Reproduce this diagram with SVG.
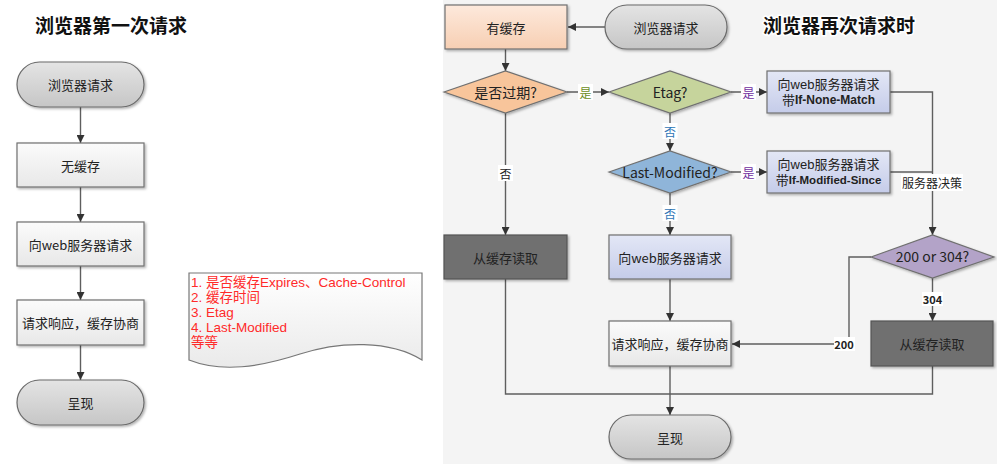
<svg xmlns="http://www.w3.org/2000/svg" width="997" height="464" viewBox="0 0 997 464">
<defs>
  <linearGradient id="gBox" x1="0" y1="0" x2="0" y2="1"><stop offset="0" stop-color="#fbfbfb"/><stop offset="1" stop-color="#e8e8e8"/></linearGradient>
  <linearGradient id="gTerm" x1="0" y1="0" x2="0" y2="1"><stop offset="0" stop-color="#e4e4e4"/><stop offset="1" stop-color="#c6c6c6"/></linearGradient>
  <linearGradient id="gPeach" x1="0" y1="0" x2="0" y2="1"><stop offset="0" stop-color="#fde9dc"/><stop offset="1" stop-color="#f7cfb3"/></linearGradient>
  <linearGradient id="gLav" x1="0" y1="0" x2="0" y2="1"><stop offset="0" stop-color="#e3e7f6"/><stop offset="1" stop-color="#c5cce9"/></linearGradient>
  <linearGradient id="gNote" x1="0" y1="0" x2="0" y2="1"><stop offset="0" stop-color="#ffffff"/><stop offset="1" stop-color="#eaeaea"/></linearGradient>
  <filter id="sh" x="-10%" y="-10%" width="125%" height="135%"><feDropShadow dx="1.5" dy="1.5" stdDeviation="1" flood-color="#000" flood-opacity="0.3"/></filter>
  <marker id="arr" viewBox="0 0 10 10" refX="10" refY="5" markerWidth="8" markerHeight="8" markerUnits="userSpaceOnUse" orient="auto"><path d="M0,0 L10,5 L0,10 z" fill="#333"/></marker>
</defs>
<style>
  .t{font-family:"Noto Sans CJK SC","Liberation Sans",sans-serif;font-size:13px;fill:#222;text-anchor:middle;dominant-baseline:central}
  .t2{font-family:"Liberation Sans","Noto Sans CJK SC",sans-serif;font-size:13px;fill:#222;text-anchor:middle;dominant-baseline:central}
  .tb{font-weight:bold}
  .title{font-family:"Noto Sans CJK SC","Liberation Sans",sans-serif;font-size:19px;font-weight:bold;fill:#111}
  .box{fill:url(#gBox);stroke:#707070;stroke-width:1.2;filter:url(#sh)}
  .term{fill:url(#gTerm);stroke:#6a6a6a;stroke-width:1.2;filter:url(#sh)}
  .dark{fill:#6f6f6f;stroke:#555;stroke-width:1.2;filter:url(#sh)}
  .lav{fill:url(#gLav);stroke:#707070;stroke-width:1.2;filter:url(#sh)}
  .ln{fill:none;stroke:#5e5e5e;stroke-width:1.4}
  .la{fill:none;stroke:#5e5e5e;stroke-width:1.4;marker-end:url(#arr)}
  .lbl{font-family:"Noto Sans CJK SC","Liberation Sans",sans-serif;font-size:12px;text-anchor:middle;dominant-baseline:central}
  .note{font-family:"Liberation Sans","Noto Sans CJK SC",sans-serif;font-size:13.5px;fill:#ff2a2a}
</style>
<rect x="0" y="0" width="997" height="464" fill="#ffffff"/>
<rect x="443" y="0" width="554" height="464" fill="#f4f4f4"/>

<text class="title" x="35" y="33">浏览器第一次请求</text>
<text class="title" x="763" y="33" stroke="#ffffff" stroke-width="3" paint-order="stroke">浏览器再次请求时</text>

<g id="connectors">
  <line class="la" x1="80.5" y1="107" x2="80.5" y2="143"/>
  <line class="la" x1="80.5" y1="187" x2="80.5" y2="222"/>
  <line class="la" x1="80.5" y1="266" x2="80.5" y2="300"/>
  <line class="la" x1="80.5" y1="345" x2="80.5" y2="380"/>
  <line class="la" x1="605" y1="27" x2="568" y2="27"/>
  <line class="la" x1="505.5" y1="49" x2="505.5" y2="71"/>
  <line class="la" x1="567" y1="92" x2="609" y2="92"/>
  <line class="la" x1="731" y1="92" x2="767" y2="92"/>
  <line class="la" x1="670" y1="113" x2="670" y2="151"/>
  <line class="la" x1="731" y1="172" x2="767" y2="172"/>
  <line class="la" x1="670" y1="193" x2="670" y2="235"/>
  <line class="la" x1="505.5" y1="113" x2="505.5" y2="235"/>
  <polyline class="la" points="890,92 932.5,92 932.5,235"/>
  <line class="ln" x1="890" y1="172" x2="932.5" y2="172"/>
  <polyline class="la" points="871,257 849,257 849,344 732,344"/>
  <line class="la" x1="932.5" y1="278" x2="932.5" y2="321"/>
  <line class="la" x1="670" y1="279" x2="670" y2="321"/>
  <polyline class="ln" points="505.5,279 505.5,394 932.5,394 932.5,366"/>
  <line class="la" x1="670" y1="366" x2="670" y2="415"/>
  <rect x="578" y="84" width="15" height="16" fill="#fff"/>
  <text class="lbl" x="585.5" y="92" fill="#6b8e23">是</text>
  <rect x="741" y="84" width="15" height="16" fill="#fff"/>
  <text class="lbl" x="748.5" y="92" fill="#7030a0">是</text>
  <rect x="662.5" y="123" width="15" height="16" fill="#fff"/>
  <text class="lbl" x="670" y="131" fill="#2e75b6">否</text>
  <rect x="741" y="164" width="15" height="16" fill="#fff"/>
  <text class="lbl" x="748.5" y="172" fill="#7030a0">是</text>
  <rect x="662.5" y="205" width="15" height="16" fill="#fff"/>
  <text class="lbl" x="670" y="213" fill="#2e75b6">否</text>
  <rect x="498" y="165" width="15" height="16" fill="#fff"/>
  <text class="lbl" x="505.5" y="173" fill="#222">否</text>
  <rect x="901" y="174" width="62" height="17" fill="#fff"/>
  <text class="lbl" x="932" y="182" fill="#222">服务器决策</text>
  <rect x="922" y="292" width="21" height="14" fill="#fff"/>
  <text class="lbl tb" x="932.5" y="299" fill="#222" style="font-size:11px">304</text>
  <rect x="834" y="337" width="21" height="14" fill="#fff"/>
  <text class="lbl tb" x="844" y="344" fill="#222" style="font-size:11px">200</text>
</g>

<g id="l-start"><rect class="term" x="17" y="62" width="127" height="45" rx="22.5"/><text class="t" x="80.5" y="84.5">浏览器请求</text></g>
<g id="l-nocache"><rect class="box" x="17" y="143" width="127" height="44"/><text class="t" x="80.5" y="165">无缓存</text></g>
<g id="l-req"><rect class="box" x="17" y="222" width="127" height="44"/><text class="t" x="80.5" y="244">向web服务器请求</text></g>
<g id="l-resp"><rect class="box" x="17" y="300" width="127" height="45"/><text class="t" x="80.5" y="322.5">请求响应，缓存协商</text></g>
<g id="l-show"><rect class="term" x="17" y="380" width="127" height="45" rx="22.5"/><text class="t" x="80.5" y="402.5">呈现</text></g>

<g id="note">
  <path d="M189,273 H422 V360 C390,340 340,341 300,354 C260,367 222,373 189,360 Z" fill="url(#gNote)" stroke="#777" stroke-width="1.2"/>
  <text class="note" x="191" y="287">1. 是否缓存Expires、Cache-Control</text>
  <text class="note" x="191" y="302">2. 缓存时间</text>
  <text class="note" x="191" y="317">3. Etag</text>
  <text class="note" x="191" y="332">4. Last-Modified</text>
  <text class="note" x="191" y="347">等等</text>
</g>

<g id="r-cache"><rect x="445" y="5" width="122" height="44" fill="url(#gPeach)" stroke="#707070" stroke-width="1.2" filter="url(#sh)"/><text class="t" x="506" y="27">有缓存</text></g>
<g id="r-start"><rect class="term" x="605" y="5" width="122" height="44" rx="22"/><text class="t" x="666" y="27">浏览器请求</text></g>
<g id="r-expired"><polygon points="444,92 505.5,71 567,92 505.5,113" fill="#f8c59b" stroke="#707070" stroke-width="1.2" filter="url(#sh)"/><text class="t" x="505.5" y="92" style="font-size:14px">是否过期?</text></g>
<g id="r-etag"><polygon points="609,92 670,71 731,92 670,113" fill="#c6d49c" stroke="#707070" stroke-width="1.2" filter="url(#sh)"/><text class="t" x="670" y="92" style="font-size:14px">Etag?</text></g>
<g id="r-inm"><rect class="lav" x="767" y="71" width="123" height="42"/><text class="t2" x="828.5" y="84">向web服务器请求</text><text class="t2" x="828.5" y="100">带<tspan class="tb" style="font-size:12px">If-None-Match</tspan></text></g>
<g id="r-lm"><polygon points="609,172 670,151 731,172 670,193" fill="#8fb5d9" stroke="#707070" stroke-width="1.2" filter="url(#sh)"/><text class="t" x="670" y="172" style="font-size:14px">Last-Modified?</text></g>
<g id="r-ims"><rect class="lav" x="767" y="151" width="123" height="42"/><text class="t2" x="828.5" y="164">向web服务器请求</text><text class="t2" x="828.5" y="180">带<tspan class="tb" style="font-size:11.5px">If-Modified-Since</tspan></text></g>
<g id="r-readcache1"><rect class="dark" x="444" y="235" width="123" height="44"/><text class="t" x="505.5" y="257">从缓存读取</text></g>
<g id="r-req"><rect class="lav" x="609" y="235" width="122" height="44"/><text class="t" x="670" y="257">向web服务器请求</text></g>
<g id="r-decide"><polygon points="871,257 932.5,235 994,257 932.5,278" fill="#b3a3c8" stroke="#707070" stroke-width="1.2" filter="url(#sh)"/><text class="t" x="932.5" y="256" style="font-size:14px">200 or 304?</text></g>
<g id="r-readcache2"><rect class="dark" x="871" y="321" width="122" height="45"/><text class="t" x="932" y="343.5">从缓存读取</text></g>
<g id="r-resp"><rect class="box" x="609" y="321" width="122" height="45"/><text class="t" x="670" y="343.5">请求响应，缓存协商</text></g>
<g id="r-show"><rect class="term" x="609" y="415" width="122" height="44" rx="22"/><text class="t" x="670" y="437">呈现</text></g>
</svg>
